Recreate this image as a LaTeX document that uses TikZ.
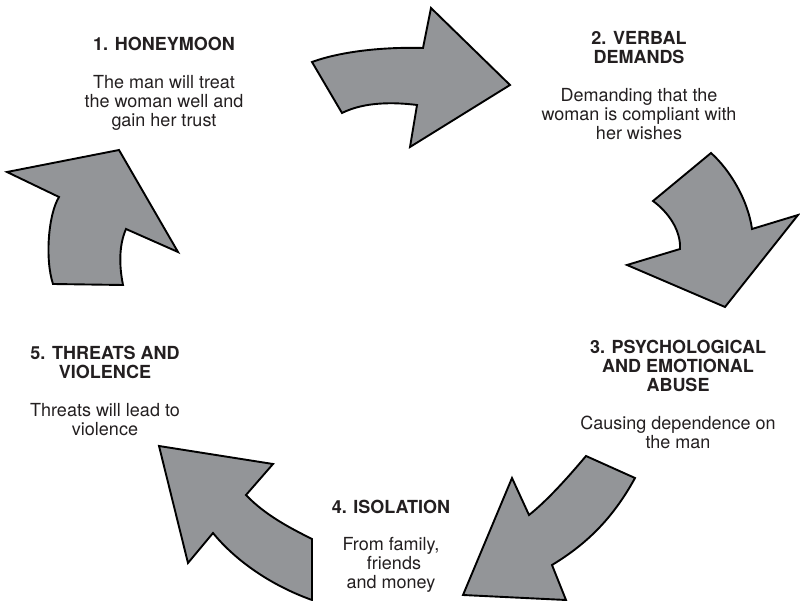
\documentclass[tikz,border=0pt]{standalone}
\usepackage{fontspec}
\setmainfont{TeX Gyre Heros}
\definecolor{arrowgray}{HTML}{939598}
\definecolor{ink}{HTML}{231F20}
\tikzset{
  cyclearrow/.style={draw=black, fill=arrowgray, line width=1.9pt, line join=miter},
  lbl/.style={inner sep=0pt, anchor=base, text=ink, font=\fontsize{18}{18.9}\selectfont}
}
\newcommand{\stage}[1]{\begin{tabular}[t]{@{}c@{}}#1\end{tabular}}
\begin{document}
\begin{tikzpicture}[x=1pt,y=-1pt]
\useasboundingbox (0,0) rectangle (800,601);

% arrow 1 -> 2 (top)
\draw[cyclearrow] (312,62) .. controls (345,50) and (390,47) .. (423,48)
  -- (431,8) -- (510,85) -- (410,147) -- (417,105)
  .. controls (385,101) and (360,104) .. (342,113) -- cycle;

% arrow 2 -> 3 (right)
\draw[cyclearrow] (711,153) -- (653,201)
  .. controls (668,212) and (681,230) .. (680,249)
  -- (627,265) -- (725,307) -- (798,215) -- (752,229)
  .. controls (748,200) and (730,170) .. cycle;

% arrow 3 -> 4 (lower right)
\draw[cyclearrow] (586,456) -- (635,478)
  .. controls (612,520) and (585,545) .. (552,565)
  -- (566,600) -- (463,595) -- (512,478) -- (529,515)
  .. controls (548,500) and (570,475) .. cycle;

% arrow 4 -> 5 (lower left)
\draw[cyclearrow] (159,446) -- (273,464) -- (246,495)
  .. controls (265,515) and (290,528) .. (312,539)
  -- (312,600)
  .. controls (270,585) and (235,560) .. (213,533)
  -- (188,563) -- cycle;

% arrow 5 -> 1 (left)
\draw[cyclearrow] (53,284) -- (123,285)
  .. controls (119,265) and (119,245) .. (126,229)
  -- (178,252) -- (119,150) -- (7,172) -- (59,197)
  .. controls (48,215) and (45,260) .. cycle;

% stage labels
\node[lbl] (s1) at (164,50.6) {\stage{\textbf{1. HONEYMOON}\\ \\
  The man will treat\\ the woman well and\\ gain her trust}};
\node[lbl] (s2) at (639,44.8) {\stage{\textbf{2. VERBAL}\\ \textbf{DEMANDS}\\ \\
  Demanding that the\\ woman is compliant with\\ her wishes}};
\node[lbl] (s3) at (678,353.2) {\stage{\textbf{3. PSYCHOLOGICAL}\\ \textbf{AND EMOTIONAL}\\ \textbf{ABUSE}\\ \\
  Causing dependence on\\ the man}};
\node[lbl] (s4) at (391,513) {\stage{\textbf{4. ISOLATION}\\ \\
  From family,\\ \hspace*{6pt}friends\\ and money}};
\node[lbl] (s5) at (105,359.8) {\stage{\textbf{5. THREATS AND}\\ \textbf{VIOLENCE}\\ \\
  Threats will lead to\\ violence}};
\end{tikzpicture}
\end{document}
